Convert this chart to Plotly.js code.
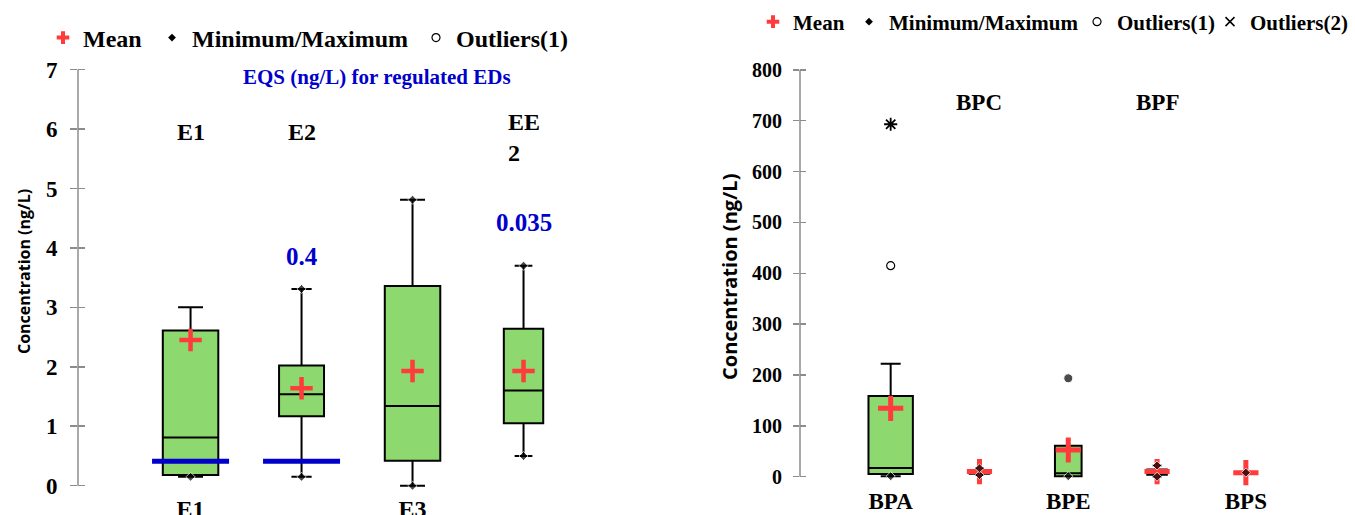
<!DOCTYPE html>
<html><head><meta charset="utf-8">
<script src="https://cdn.plot.ly/plotly-3.0.1.min.js"></script>
<style>html,body{margin:0;padding:0;background:#fff;overflow:hidden;width:1355px;height:515px}#chart{width:1355px;height:515px;overflow:hidden}</style>
</head><body><div id="chart"></div>
<script>
// ---------- Left panel (estrogens, ng/L) ----------
const leftCats = ['E1', 'E2', 'E3', 'EE2'];
const leftQ1 = [0.18, 1.17, 0.42, 1.05];
const leftMedian = [0.81, 1.54, 1.34, 1.60];
const leftQ3 = [2.61, 2.02, 3.36, 2.64];
const leftLowerWhisker = [0.15, 0.15, 0.00, 0.50];
const leftUpperWhisker = [3.00, 3.31, 4.81, 3.70];
const leftMean = [2.45, 1.64, 1.93, 1.93];
const leftMinMarker = [0.15, 0.15, 0.00, 0.50];
const leftMaxMarker = [null, 3.31, 4.81, 3.70];
const leftTopLabels = ['E1', 'E2', null, 'EE<br>2'];
const leftBottomLabels = ['E1', 'E3'];
const leftYTicks = [0, 1, 2, 3, 4, 5, 6, 7];
// EQS (environmental quality standards) for regulated EDs
const eqsCats = ['E1', 'E2', 'EE2'];
const eqsDrawnLevel = [0.41, 0.41, -0.12];
const eqsLabels = [null, '0.4', '0.035'];

// ---------- Right panel (bisphenols, ng/L) ----------
const rightCats = ['BPA', 'BPC', 'BPE', 'BPF', 'BPS'];
const rightQ1 = [5.3, 6, 1, 4, null];
const rightMedian = [17, 9, 6.7, 8, null];
const rightQ3 = [158.7, 13, 61, 14, null];
const rightLowerWhisker = [1, 3.3, 1, 0, null];
const rightUpperWhisker = [222, 16.5, 17.7, 22, null];
const rightMean = [134.5, 10, 52.5, 10, 8];
const rightMinMarker = [1, 3.3, 1, 0, 8];
const rightMaxMarker = [null, 16.5, 193.5, 22, null];
const rightOutliers1 = [415, null, null, null, null];
const rightOutliers2 = [693, null, null, null, null];
const rightTopLabels = [null, 'BPC', null, 'BPF', null];
const rightBottomLabels = ['BPA', 'BPE', 'BPS'];
const rightYTicks = [0, 100, 200, 300, 400, 500, 600, 700, 800];

// ---------- styles ----------
const W = 1355, H = 515;
const serif = 'Times New Roman, Liberation Serif, serif';
const sans = 'Open Sans, Noto Sans, sans-serif';
const green = '#8ed870', red = '#ff3b3b', blue = '#0000cc', axisGray = '#8c8c8c';
const leftBoxWidth = [0.5, 0.405, 0.5, 0.355];
const rightBoxWidth = [0.5, 0.22, 0.3, 0.22, 0.22];
const bold = (size, color) => ({family: serif, size, color: color || '#000', weight: 'bold'});

const traces = [];
function boxes(cats, q1, med, q3, lo, hi, widths, xa, ya) {
  cats.forEach((c, i) => {
    if (q1[i] == null) return;
    traces.push({type: 'box', x: [c], q1: [q1[i]], median: [med[i]], q3: [q3[i]],
      lowerfence: [lo[i]], upperfence: [hi[i]], width: widths[i],
      fillcolor: green, line: {color: '#000', width: 2}, whiskerwidth: 0.45,
      boxpoints: false, showlegend: false, hoverinfo: 'skip', xaxis: xa, yaxis: ya});
  });
}
boxes(leftCats, leftQ1, leftMedian, leftQ3, leftLowerWhisker, leftUpperWhisker, leftBoxWidth, 'x', 'y');
boxes(rightCats, rightQ1, rightMedian, rightQ3, rightLowerWhisker, rightUpperWhisker, rightBoxWidth, 'x2', 'y2');

// EQS horizontal bars (line-ew marker length = 1.4 * size)
traces.push({type: 'scatter', mode: 'markers', x: eqsCats, y: eqsDrawnLevel, xaxis: 'x', yaxis: 'y',
  marker: {symbol: 'line-ew-open', size: 55, color: blue, line: {color: blue, width: 5}},
  showlegend: false, hoverinfo: 'skip', cliponaxis: false});

// means
traces.push({type: 'scatter', mode: 'markers', x: leftCats, y: leftMean, xaxis: 'x', yaxis: 'y',
  marker: {symbol: 'cross-thin-open', size: 16, color: red, line: {color: red, width: 4.5}},
  showlegend: false, hoverinfo: 'skip'});
traces.push({type: 'scatter', mode: 'markers', x: rightCats, y: rightMean, xaxis: 'x2', yaxis: 'y2',
  marker: {symbol: 'cross-thin-open', size: 18, color: red, line: {color: red, width: 5}},
  showlegend: false, hoverinfo: 'skip', cliponaxis: false});

// min / max markers
function minmax(cats, mins, maxs, xa, ya, maxSymbol) {
  const x = [], y = [], s = [], sz = [];
  cats.forEach((c, i) => {
    if (mins[i] != null) { x.push(c); y.push(mins[i]); s.push('diamond'); sz.push(7); }
    if (maxs[i] != null) { x.push(c); y.push(maxs[i]); s.push(maxSymbol[i] || 'diamond'); sz.push(maxSymbol[i] ? 9 : 7); }
  });
  traces.push({type: 'scatter', mode: 'markers', x, y, xaxis: xa, yaxis: ya,
    marker: {symbol: s, size: sz, color: '#000'}, showlegend: false, hoverinfo: 'skip', cliponaxis: false});
}
minmax(leftCats, leftMinMarker, leftMaxMarker, 'x', 'y', []);
minmax(rightCats, rightMinMarker, rightMaxMarker, 'x2', 'y2', [null, null, 'circle', null, null]);

// outliers
traces.push({type: 'scatter', mode: 'markers', x: rightCats, y: rightOutliers1, xaxis: 'x2', yaxis: 'y2',
  marker: {symbol: 'circle-open', size: 8, color: '#000', line: {width: 1.2}}, showlegend: false, hoverinfo: 'skip'});
traces.push({type: 'scatter', mode: 'markers', x: rightCats, y: rightOutliers2, xaxis: 'x2', yaxis: 'y2',
  marker: {symbol: 'asterisk-open', size: 11, color: '#000', line: {color: '#000', width: 1.8}}, showlegend: false, hoverinfo: 'skip'});

// legend-only entries, one legend per entry so each can be placed where the reference has it
const lMean = {symbol: 'cross-thin-open', size: 9, color: red, line: {color: red, width: 4}};
const lDia = {symbol: 'diamond', size: 6, color: '#000'};
const lOut1 = {symbol: 'circle-open', size: 8, color: '#000', line: {width: 1.2}};
const lOut2 = {symbol: 'x-thin-open', size: 9, color: '#000', line: {color: '#000', width: 1.5}};
const legendNames = ['Mean', 'Minimum/Maximum', 'Outliers(1)', 'Outliers(2)'];
const legendMarkers = [lMean, lDia, lOut1, lOut2];
// [legend id, entry index, axes, text-left x (px), centre y (px), font size]
const legendSpec = [
  ['legend',  0, 'x', 'y', 83, 38, 24], ['legend2', 1, 'x', 'y', 192, 38, 24], ['legend3', 2, 'x', 'y', 456, 38, 24],
  ['legend4', 0, 'x2', 'y2', 793, 22, 21], ['legend5', 1, 'x2', 'y2', 889, 22, 21],
  ['legend6', 2, 'x2', 'y2', 1117, 22, 21], ['legend7', 3, 'x2', 'y2', 1250, 22, 21]
];
legendSpec.forEach(([lid, k, xa, ya]) => {
  traces.push({type: 'scatter', mode: 'markers', x: [null], y: [null], name: legendNames[k], marker: legendMarkers[k],
    legend: lid, xaxis: xa, yaxis: ya, hoverinfo: 'skip'});
});

// dummy traces so the crossing-tick overlay axes render
traces.push({type: 'scatter', x: [null], y: [null], xaxis: 'x', yaxis: 'y3', showlegend: false, hoverinfo: 'skip'});
traces.push({type: 'scatter', x: [null], y: [null], xaxis: 'x2', yaxis: 'y4', showlegend: false, hoverinfo: 'skip'});

// ---------- geometry (pixels -> paper) ----------
const px = v => v / W, py = v => (H - v) / H;
const leftRange = [-0.106, 7.05], rightRange = [-17, 810];
const leftDomain = [py(485.7 + 0.106 * 59.45), py(485.7 - 7.05 * 59.45)];
const rightDomain = [py(476.7 + 0.17 * 50.86), py(476.7 - 8.10 * 50.86)];

const commonY = {showgrid: false, zeroline: false, showline: false, automargin: false,
  tickmode: 'array', tickcolor: axisGray, tickwidth: 1.5};
const commonX = {type: 'category', showgrid: false, zeroline: false, showline: false, automargin: false,
  ticks: '', tickmode: 'array'};

const annotations = [];
leftCats.forEach((c, i) => {
  if (leftTopLabels[i] == null) return;
  const isTwoLine = leftTopLabels[i].includes('<br>');
  annotations.push({xref: 'x', yref: 'y', x: isTwoLine ? i - 0.155 : i, y: isTwoLine ? 5.85 : 5.95,
    xanchor: isTwoLine ? 'left' : 'center', align: 'left', yanchor: 'middle',
    text: leftTopLabels[i], showarrow: false, font: bold(24)});
});
eqsCats.forEach((c, i) => {
  if (eqsLabels[i] == null) return;
  annotations.push({xref: 'x', yref: 'y', x: c, y: c === 'E2' ? 3.85 : 4.42, xanchor: 'center', yanchor: 'middle',
    text: eqsLabels[i], showarrow: false, font: bold(25, blue)});
});
annotations.push({xref: 'paper', yref: 'paper', x: px(377), y: py(77), xanchor: 'center', yanchor: 'middle',
  text: 'EQS (ng/L) for regulated EDs', showarrow: false, font: bold(21, blue)});
rightCats.forEach((c, i) => {
  if (rightTopLabels[i] == null) return;
  annotations.push({xref: 'x2', yref: 'paper', x: c, y: py(103), xanchor: 'center', yanchor: 'middle',
    text: rightTopLabels[i], showarrow: false, font: bold(23)});
});
annotations.push({xref: 'paper', yref: 'paper', x: px(24), y: py(272), xanchor: 'center', yanchor: 'middle',
  textangle: -90, text: 'Concentration (ng/L)', showarrow: false,
  font: {family: sans, size: 16, color: '#000', weight: 'bold'}});
annotations.push({xref: 'paper', yref: 'paper', x: px(730), y: py(277), xanchor: 'center', yanchor: 'middle',
  textangle: -90, text: 'Concentration (ng/L)', showarrow: false,
  font: {family: sans, size: 20, color: '#000', weight: 'bold'}});

const layout = {
  width: W, height: H, margin: {l: 0, r: 0, t: 0, b: 0, autoexpand: false},
  paper_bgcolor: '#fff', plot_bgcolor: 'rgba(0,0,0,0)', font: {family: serif},
  xaxis: Object.assign({}, commonX, {domain: [px(78), px(600)], range: [-1.014, 3.689], anchor: 'y',
    categoryorder: 'array', categoryarray: leftCats, tickvals: leftBottomLabels, ticktext: leftBottomLabels,
    tickfont: bold(24)}),
  yaxis: Object.assign({}, commonY, {domain: leftDomain, range: leftRange, anchor: 'x',
    tickvals: leftYTicks, ticks: 'outside', ticklen: 7, ticklabelstandoff: 8, tickfont: bold(23)}),
  yaxis3: Object.assign({}, commonY, {overlaying: 'y', anchor: 'x', side: 'left', range: leftRange,
    tickvals: leftYTicks, ticks: 'inside', ticklen: 7, showticklabels: false}),
  xaxis2: Object.assign({}, commonX, {domain: [px(800), px(1340)], range: [-1.021, 5.06], anchor: 'y2',
    categoryorder: 'array', categoryarray: rightCats, tickvals: rightBottomLabels, ticktext: rightBottomLabels,
    tickfont: bold(23)}),
  yaxis2: Object.assign({}, commonY, {domain: rightDomain, range: rightRange, anchor: 'x2',
    tickvals: rightYTicks, ticks: 'outside', ticklen: 6, ticklabelstandoff: 7, tickfont: bold(20)}),
  yaxis4: Object.assign({}, commonY, {overlaying: 'y2', anchor: 'x2', side: 'left', range: rightRange,
    tickvals: rightYTicks, ticks: 'inside', ticklen: 6, showticklabels: false}),
  shapes: [
    {type: 'line', xref: 'x domain', yref: 'y', x0: 0, x1: 0, y0: leftYTicks[0], y1: leftYTicks[leftYTicks.length - 1],
      line: {color: axisGray, width: 1.5}},
    {type: 'line', xref: 'x2 domain', yref: 'y2', x0: 0, x1: 0, y0: rightYTicks[0], y1: rightYTicks[rightYTicks.length - 1],
      line: {color: axisGray, width: 1.5}}
  ],
  annotations
};
// place each single-entry legend: text starts ~40px right of the legend's left edge
legendSpec.forEach(([lid, k, xa, ya, tx, cy, fs]) => {
  layout[lid] = {orientation: 'h', x: px(tx - 40), xanchor: 'left', y: py(cy), yanchor: 'middle',
    bgcolor: 'rgba(0,0,0,0)', borderwidth: 0, font: bold(fs), itemclick: false, itemdoubleclick: false};
});
Plotly.newPlot('chart', traces, layout, {displayModeBar: false, staticPlot: true});
</script></body></html>
